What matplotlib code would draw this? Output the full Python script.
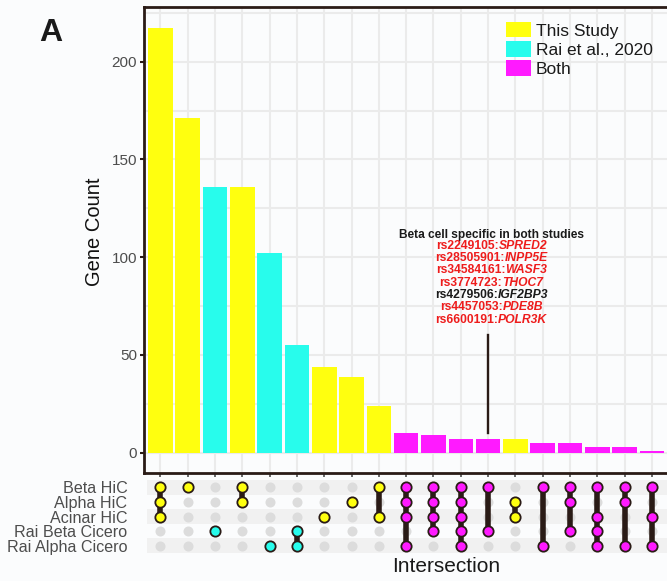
# UpSet-style plot: gene counts per intersection of HiC / Cicero sets

import matplotlib
matplotlib.use('Agg')
import matplotlib.pyplot as plt
from matplotlib.patches import Patch
from matplotlib.offsetbox import TextArea, HPacker, AnnotationBbox
import numpy as np

plt.rcParams['font.family'] = ['Liberation Sans', 'DejaVu Sans']

sets = ['Beta HiC', 'Alpha HiC', 'Acinar HiC', 'Rai Beta Cicero', 'Rai Alpha Cicero']
counts = [217, 171, 136, 136, 102, 55, 44, 39, 24, 10, 9, 7, 7, 7, 5, 5, 3, 3, 1]
source = ['This Study', 'This Study', 'Rai et al., 2020', 'This Study', 'Rai et al., 2020',
          'Rai et al., 2020', 'This Study', 'This Study', 'This Study', 'Both', 'Both',
          'Both', 'Both', 'This Study', 'Both', 'Both', 'Both', 'Both', 'Both']
# set indices (rows of the matrix) in each intersection
members = [[0, 1, 2], [0], [3], [0, 1], [4], [3, 4], [2], [1], [0, 2],
           [0, 1, 2, 4], [0, 1, 2, 3], [0, 1, 2, 3, 4], [0, 3], [1, 2],
           [0, 4], [0, 1, 3], [0, 2, 3, 4], [0, 1, 4], [0, 2, 4]]

legend_labels = ['This Study', 'Rai et al., 2020', 'Both']
colors = {'This Study': '#ffff0f', 'Rai et al., 2020': '#28fcec', 'Both': '#ff1aff'}

note_title = 'Beta cell specific in both studies'
snps = ['rs2249105', 'rs28505901', 'rs34584161', 'rs3774723', 'rs4279506', 'rs4457053', 'rs6600191']
genes = ['SPRED2', 'INPP5E', 'WASF3', 'THOC7', 'IGF2BP3', 'PDE8B', 'POLR3K']
note_colors = ['#ee1c1c', '#ee1c1c', '#ee1c1c', '#ee1c1c', '#1a1a1a', '#ee1c1c', '#ee1c1c']
note_col = 12

bg = '#fbfcfd'
dark = '#2a1b16'
grey_txt = '#4d4d4d'

fig = plt.figure(figsize=(6.67, 5.81), dpi=100)
fig.patch.set_facecolor(bg)

# ---- bar panel
ax = fig.add_axes([0.2159, 0.1864, 0.7841, 0.8016])
ax.set_facecolor(bg)
x = np.arange(len(counts))
ax.bar(x, counts, width=0.9, color=[colors[s] for s in source], zorder=2)
ax.set_xlim(-0.6, 18.55)
ax.set_ylim(-10.2, 228)
ax.set_yticks([0, 50, 100, 150, 200])
ax.set_yticks([25, 75, 125, 175, 225], minor=True)
ax.set_xticks(x)
ax.set_xticklabels([])
ax.grid(True, which='both', color='#ebebeb', lw=1.5, zorder=0)
ax.tick_params(axis='y', which='major', labelsize=11, labelcolor=grey_txt,
               length=3, width=1.5, color=dark, pad=2)
ax.tick_params(axis='y', which='minor', length=0)
ax.tick_params(axis='x', length=3, width=1.2, color=grey_txt)
for side in ['left', 'bottom', 'top']:
    ax.spines[side].set_color(dark)
    ax.spines[side].set_linewidth(2)
ax.spines['right'].set_visible(False)
ax.set_ylabel('Gene Count', fontsize=14.5, color='#111111')
ax.yaxis.set_label_coords(-0.076, 0.518)

handles = [Patch(facecolor=colors[l], edgecolor='none') for l in legend_labels]
ax.legend(handles, legend_labels, loc='upper left', bbox_to_anchor=(0.692, 0.968),
          frameon=False, fontsize=12.5, handlelength=1.45, handleheight=1.0,
          handletextpad=0.28, labelspacing=0.14, borderpad=0, borderaxespad=0,
          labelcolor='#1a1a1a')

# annotation for the beta-cell intersection
ax.plot([note_col, note_col], [10, 60.4], color=dark, lw=1.7, zorder=3)
ax.text(note_col + 0.12, 111.6, note_title, ha='center', va='center',
        fontsize=8.6, weight='bold', color='#1a1a1a')
for i in range(len(snps)):
    row = HPacker(children=[
        TextArea(snps[i] + ':', textprops=dict(fontsize=8.7, weight='bold', color=note_colors[i])),
        TextArea(genes[i], textprops=dict(fontsize=8.7, weight='bold', style='italic',
                                          color=note_colors[i]))],
        align='baseline', pad=0, sep=0)
    ab = AnnotationBbox(row, (note_col + 0.12, 106.0 - i * 6.33), xycoords='data',
                        frameon=False, box_alignment=(0.5, 0.5), pad=0)
    ax.add_artist(ab)

# ---- matrix panel
ax2 = fig.add_axes([0.2159, 0.0482, 0.7841, 0.1256])
ax2.set_facecolor(bg)
ax2.set_xlim(-0.6, 18.55)
ax2.set_ylim(4.5, -0.5)
for r in range(0, len(sets), 2):
    ax2.axhspan(r - 0.5, r + 0.5, xmin=0.005, color='#f1f1f1', lw=0, zorder=0)
gx, gy = np.meshgrid(x, np.arange(len(sets)))
ax2.scatter(gx.ravel(), gy.ravel(), s=52, color='#dcdcdc', lw=0, zorder=1)
for i, m in enumerate(members):
    c = colors[source[i]]
    if len(m) > 1:
        ax2.plot([i, i], [min(m), max(m)], color=dark, lw=4, zorder=2, solid_capstyle='butt')
    ax2.scatter([i] * len(m), m, s=55, color=c, edgecolor=dark, lw=1.3, zorder=3)
ax2.set_yticks(range(len(sets)))
ax2.set_yticklabels(sets)
ax2.set_xticks([])
ax2.tick_params(axis='y', length=0, labelsize=11.6, labelcolor=grey_txt, pad=12)
for s in ax2.spines.values():
    s.set_visible(False)

fig.text(446 / 667, 1 - 566.7 / 581, 'Intersection', ha='center', va='center',
         fontsize=15, color='#1a1a1a')
fig.text(51 / 667, 1 - 33 / 581, 'A', ha='center', va='center', fontsize=23,
         weight='bold', color='#1a1a1a')

fig.savefig('out.png', dpi=100, facecolor=bg)
